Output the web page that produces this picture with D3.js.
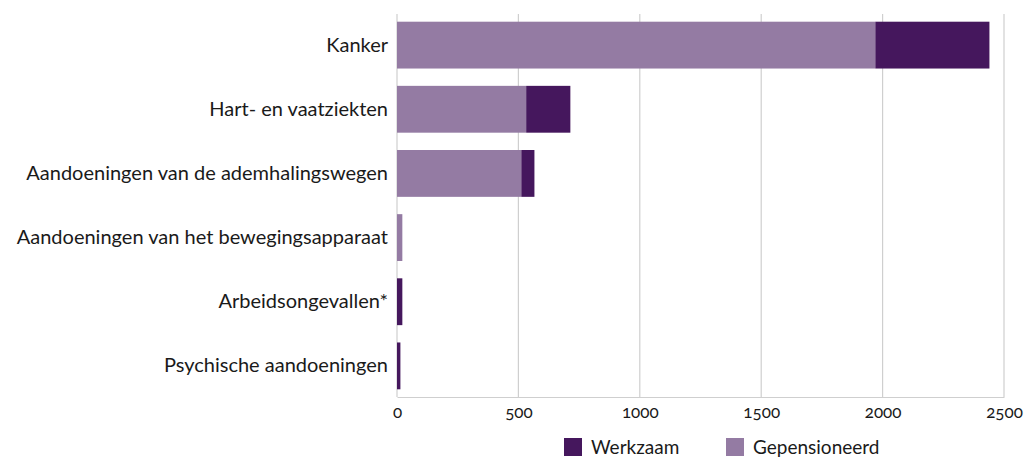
<!DOCTYPE html>
<html>
<head>
<meta charset="utf-8">
<script src="https://cdn.jsdelivr.net/npm/d3@7"></script>
<style>
  body { margin: 0; background: #fff; }
  text { font-family: Lato, "Open Sans", sans-serif; fill: #1a1a1a; }
  .x-axis text { font-variant-numeric: oldstyle-nums; font-feature-settings: "onum" 1; }
</style>
</head>
<body>
<div id="chart"></div>
<script>
// data
const categories = [
  "Kanker",
  "Hart- en vaatziekten",
  "Aandoeningen van de ademhalingswegen",
  "Aandoeningen van het bewegingsapparaat",
  "Arbeidsongevallen*",
  "Psychische aandoeningen"
];
const gepensioneerd = [1970, 532, 512, 22, 0, 0];
const werkzaam = [470, 182, 54, 0, 22, 14];
const xTicks = [0, 500, 1000, 1500, 2000, 2500];
const seriesNames = ["Werkzaam", "Gepensioneerd"];

const colors = { Werkzaam: "#45175d", Gepensioneerd: "#947ba3" };

const W = 1027, H = 459;
const plotLeft = 397, plotRight = 1004, plotTop = 14, plotBottom = 397;

const rows = categories.map((c, i) => ({
  cat: c, Gepensioneerd: gepensioneerd[i], Werkzaam: werkzaam[i]
}));

const svg = d3.select("#chart").append("svg")
  .attr("width", W).attr("height", H);

const x = d3.scaleLinear().domain([0, 2500]).range([plotLeft, plotRight]);
const y = d3.scaleBand().domain(categories).range([plotTop, plotBottom])
  .paddingInner(0.27).paddingOuter(0.12);

// gridlines
svg.append("g").selectAll("line")
  .data(xTicks)
  .join("line")
  .attr("x1", d => x(d)).attr("x2", d => x(d))
  .attr("y1", plotTop).attr("y2", plotBottom)
  .attr("stroke", "#cfcfcf").attr("stroke-width", 1.2);

// stacked bars
const stacked = d3.stack().keys(["Gepensioneerd", "Werkzaam"])(rows);
svg.append("g").selectAll("g")
  .data(stacked)
  .join("g")
  .attr("fill", d => colors[d.key])
  .selectAll("rect")
  .data(d => d)
  .join("rect")
  .attr("x", d => x(d[0]))
  .attr("y", d => y(d.data.cat))
  .attr("width", d => x(d[1]) - x(d[0]))
  .attr("height", y.bandwidth());

// x axis
const xAxis = svg.append("g")
  .attr("class", "x-axis")
  .attr("transform", `translate(0,${plotBottom})`)
  .call(d3.axisBottom(x).tickValues(xTicks).tickFormat(d3.format("d")).tickSize(0).tickPadding(9));
xAxis.select(".domain").attr("stroke", "#cfcfcf").attr("stroke-width", 1.2);
xAxis.selectAll("text")
  .style("font-family", "Lato, sans-serif")
  .style("font-size", "17px")
  .attr("fill", "#1a1a1a");

// y axis labels
const yAxis = svg.append("g")
  .attr("transform", `translate(${plotLeft},0)`)
  .call(d3.axisLeft(y).tickSize(0).tickPadding(9));
yAxis.select(".domain").remove();
yAxis.selectAll("text")
  .style("font-family", "Lato, sans-serif")
  .style("font-size", "20px")
  .attr("fill", "#1a1a1a");

// legend
const legendX = [564, 726];
const legend = svg.append("g").selectAll("g")
  .data(seriesNames)
  .join("g")
  .attr("transform", (d, i) => `translate(${legendX[i]},438)`);
legend.append("rect")
  .attr("width", 18).attr("height", 18)
  .attr("fill", d => colors[d]);
legend.append("text")
  .attr("x", 27).attr("y", 9).attr("dy", "0.35em")
  .style("font-size", "19px")
  .text(d => d);
</script>
</body>
</html>
